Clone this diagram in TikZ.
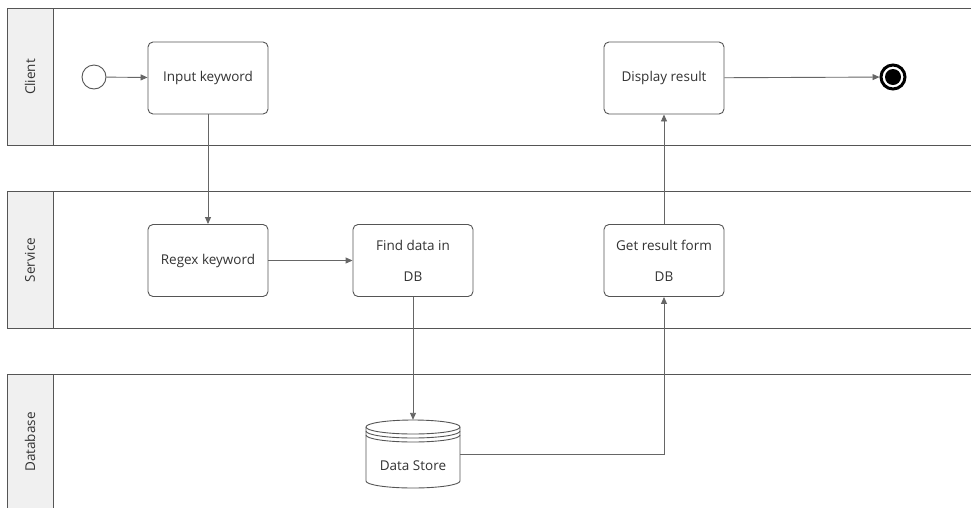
\documentclass[tikz,border=0pt]{standalone}
\usepackage{fontspec}
\setmainfont{Open Sans}
\usetikzlibrary{arrows.meta}
\definecolor{lanegray}{HTML}{555555}
\definecolor{headfill}{HTML}{F0F0F0}
\definecolor{linegray}{HTML}{666666}
\definecolor{txtgray}{HTML}{333333}
\tikzset{
  task/.style={draw=lanegray, line width=0.9pt, rounded corners=5pt, fill=white,
    minimum width=120pt, minimum height=72pt, inner sep=0pt, align=center,
    font=\fontsize{13.5}{16}\selectfont, text=txtgray},
  lanehead/.style={draw=lanegray, line width=0.9pt, fill=headfill},
  laneline/.style={draw=lanegray, line width=0.9pt},
  lanelabel/.style={rotate=90, font=\fontsize{13.5}{16}\selectfont, text=txtgray},
  flow/.style={draw=linegray, line width=0.9pt, -{Triangle[length=7pt,width=6pt]}},
}
\begin{document}
\begin{tikzpicture}[x=1pt,y=-1pt]
\useasboundingbox (0,0) rectangle (971,507);
% lanes
\draw[laneline] (975,8) -- (7,8) -- (7,145) -- (975,145);
\draw[lanehead] (7,8) rectangle (53,145);
\draw[laneline] (975,191) -- (7,191) -- (7,328) -- (975,328);
\draw[lanehead] (7,191) rectangle (53,328);
\draw[laneline] (975,374) -- (7,374) -- (7,512);
\draw[lanehead] (7,374) rectangle (53,512);
\node[lanelabel] (lc) at (30,77) {Client};
\node[lanelabel] (ls) at (30,260) {Service};
\node[lanelabel] (ld) at (30,442) {Database};
% events
\node[circle, draw=lanegray, line width=0.9pt, minimum size=24pt, inner sep=0pt, fill=white] (start) at (94,77) {};
\node[circle, draw=black, line width=3pt, minimum size=24pt, inner sep=0pt, fill=white] (end) at (893,77) {};
\fill[black] (end.center) circle (8pt);
% tasks
\node[task] (input) at (208,78) {Input keyword};
\node[task] (display) at (664,78) {Display result};
\node[task] (regex) at (208,260.5) {Regex keyword};
\node[task] (find) at (413,260.5) {Find data in\\[15pt]DB};
\node[task] (get) at (664,260.5) {Get result form\\[15pt]DB};
% data store
\node[minimum width=94pt, minimum height=68pt, inner sep=0pt] (ds) at (413,454) {};
\draw[lanegray, line width=0.9pt, fill=white]
  (366,427) -- (366,481) arc[start angle=180, end angle=0, x radius=47, y radius=7]
  -- (460,427) arc[start angle=0, end angle=-180, x radius=47, y radius=7];
\draw[lanegray, line width=0.9pt] (366,427) arc[start angle=180, end angle=0, x radius=47, y radius=7];
\draw[lanegray, line width=0.9pt] (366,431) arc[start angle=180, end angle=0, x radius=47, y radius=7];
\draw[lanegray, line width=0.9pt] (366,435) arc[start angle=180, end angle=0, x radius=47, y radius=7];
\node[font=\fontsize{13.5}{16}\selectfont, text=txtgray] (dstxt) at (413,466) {Data Store};
% connectors
\draw[flow] (start) -- (input);
\draw[flow] (input) -- (regex);
\draw[flow] (regex) -- (find);
\draw[flow] (find) -- (ds);
\draw[flow] (ds.east) -| (get.south);
\draw[flow] (get) -- (display);
\draw[flow] (display) -- (end);
\end{tikzpicture}
\end{document}
